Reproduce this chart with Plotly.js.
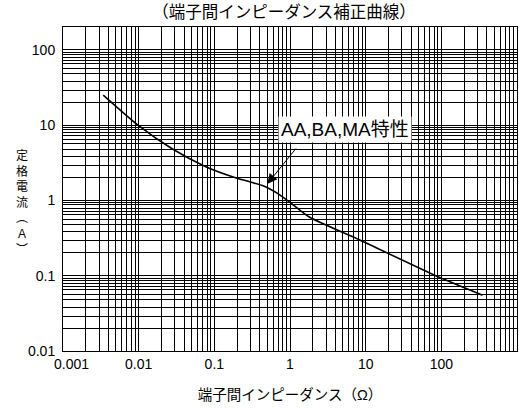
<!DOCTYPE html>
<html>
<head>
<meta charset="utf-8">
<script src="https://cdn.plot.ly/plotly-3.0.1.min.js"></script>
<style>html,body{margin:0;padding:0;background:#fff;}</style>
</head>
<body>
<div id="chart" style="width:519px;height:408px;"></div>
<script>
// ---- data ----
const impedance = [0.0034, 0.01, 0.028, 0.077, 0.19, 0.3, 0.45, 0.7, 1.0, 1.8, 8.2, 94, 350];
const ratedCurrent = [25, 9.8, 4.8, 2.8, 2.0, 1.75, 1.55, 1.22, 0.94, 0.6, 0.3, 0.095, 0.055];
const xDecades = [0.001, 0.01, 0.1, 1, 10, 100];
const xDecadeLabels = ['0.001', '0.01', '0.1', '1', '10', '100'];
const xGridMultipliers = [1, 2, 3, 4, 5, 6, 7, 8, 9];
const yDecades = [0.01, 0.1, 1, 10, 100];
const yDecadeLabels = ['0.01', '0.1', '1', '10', '100'];
const yGridMultipliers = [1, 2, 2.9, 3.8, 4.8, 5.6, 6.5, 7.2, 7.9, 8.7, 9.3];
const chartTitle = '（端子間インピーダンス補正曲線）';
const xTitle = '端子間インピーダンス（Ω）';
const yTitleChars = ['定', '格', '電', '流', '︵', 'A', '︶'];
const seriesLabel = 'AA,BA,MA特性';
const labelAt = [5.3, 8.6];
const arrowTip = [0.5, 1.65];

// ---- build ticks (first x label drawn separately, shifted inward) ----
function buildTicks(decades, labels, mults, skipFirstLabel, lastVal) {
  const vals = [], text = [];
  decades.forEach((d, i) => {
    mults.forEach((m, j) => {
      vals.push(d * m);
      text.push(j === 0 && !(skipFirstLabel && i === 0) ? labels[i] : '');
    });
  });
  if (lastVal !== undefined) { vals.push(lastVal); text.push(''); }
  return {vals, text};
}
const xt = buildTicks(xDecades, xDecadeLabels, xGridMultipliers, true, 1000);
const yt = buildTicks(yDecades, yDecadeLabels, yGridMultipliers, false);

const FONT = "'Liberation Sans', Arial, 'Noto Sans CJK JP', sans-serif";
const W = 519, H = 408;
const M = {l: 63, r: 2, t: 27, b: 57};
const plotH = H - M.t - M.b;

const annotations = [];
// first x tick label, nudged to the right like the reference
annotations.push({
  xref: 'x', yref: 'paper', x: Math.log10(xDecades[0]), y: 0,
  text: xDecadeLabels[0], showarrow: false, xanchor: 'center', yanchor: 'top',
  xshift: 8, yshift: -3,
  font: {family: FONT, size: 14, color: '#000'}
});
// series label
annotations.push({
  xref: 'x', yref: 'y',
  x: Math.log10(labelAt[0]), y: Math.log10(labelAt[1]),
  text: seriesLabel, showarrow: false,
  font: {family: FONT, size: 19, color: '#000'},
  bgcolor: '#fff', borderpad: 2, xanchor: 'center', yanchor: 'middle'
});
// arrow
annotations.push({
  xref: 'x', yref: 'y',
  x: Math.log10(arrowTip[0]), y: Math.log10(arrowTip[1]),
  text: '', showarrow: true, ax: 30, ay: -37,
  arrowhead: 2, arrowsize: 2, arrowwidth: 1, arrowcolor: '#000'
});
// vertical y title (stacked characters)
annotations.push({
  xref: 'paper', yref: 'paper',
  x: (21.7 - M.l) / (W - M.l - M.r), y: (H - M.b - 202.6) / plotH,
  text: yTitleChars.join('<br>'), showarrow: false, xanchor: 'center', yanchor: 'middle',
  align: 'center',
  font: {family: FONT, size: 12, color: '#000'}
});

const trace = {
  x: impedance, y: ratedCurrent, type: 'scatter', mode: 'lines',
  line: {color: '#000', width: 1.6, shape: 'spline', smoothing: 0.6},
  hoverinfo: 'skip', showlegend: false
};

const axisCommon = {
  type: 'log', showgrid: true, gridcolor: '#000', gridwidth: 1,
  showline: true, linecolor: '#000', linewidth: 1, mirror: true,
  ticks: '', zeroline: false, tickmode: 'array',
  tickfont: {family: FONT, size: 14, color: '#000'}
};

const layout = {
  width: W, height: H,
  margin: M,
  paper_bgcolor: '#fff', plot_bgcolor: '#fff',
  font: {family: FONT, color: '#000'},
  title: {
    text: chartTitle, font: {family: FONT, size: 16.5, color: '#000'},
    x: 284 / W, xanchor: 'center', xref: 'container',
    y: 1 - 12 / H, yanchor: 'middle', yref: 'container'
  },
  xaxis: Object.assign({}, axisCommon, {
    range: [-3, 3], tickvals: xt.vals, ticktext: xt.text,
    title: {text: xTitle, font: {family: FONT, size: 14.5, color: '#000'}, standoff: 19}
  }),
  yaxis: Object.assign({}, axisCommon, {
    range: [-2, Math.log10(200)], tickvals: yt.vals, ticktext: yt.text,
    ticklabelstandoff: 4
  }),
  annotations: annotations,
  showlegend: false
};

Plotly.newPlot('chart', [trace], layout, {displayModeBar: false, staticPlot: true});
</script>
</body>
</html>
